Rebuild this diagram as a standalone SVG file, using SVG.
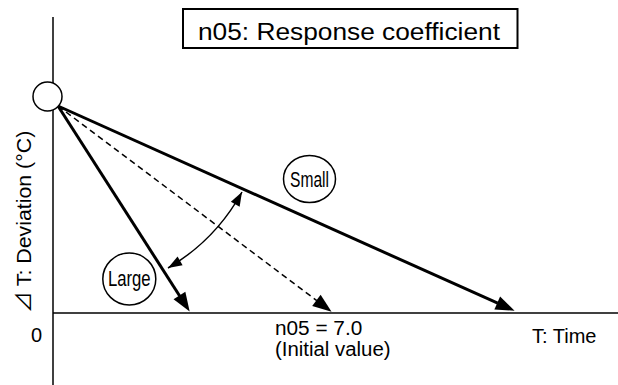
<svg xmlns="http://www.w3.org/2000/svg" width="618" height="385" viewBox="0 0 618 385">
<style>
text{font-family:"Liberation Sans",Arial,Helvetica,sans-serif;fill:#000}
.ax{stroke:#000;stroke-width:1.5;fill:none}
.thick{stroke:#000;stroke-width:3;fill:none}
.dash{stroke:#000;stroke-width:1.5;fill:none;stroke-dasharray:6 4}
.lbl{fill:#fff;stroke:#000;stroke-width:1.5}
</style>
<defs>
<marker id="big" markerUnits="userSpaceOnUse" markerWidth="22" markerHeight="16" refX="0.5" refY="7" orient="auto" overflow="visible">
<path d="M0,0 L19,7 L0,14 Z" fill="#000"/>
</marker>
<marker id="sm" markerUnits="userSpaceOnUse" markerWidth="16" markerHeight="12" refX="14" refY="5" orient="auto-start-reverse" overflow="visible">
<path d="M0,0 L14,5 L0,10 Z" fill="#000"/>
</marker>
</defs>
<g id="axes">
<line class="ax" x1="53" y1="17" x2="53" y2="385"/>
<line class="ax" x1="53" y1="313" x2="618" y2="313"/>
</g>
<g id="connectors">
<line class="thick" x1="58" y1="106" x2="179.7" y2="296" marker-end="url(#big)"/>
<line class="dash" x1="58" y1="106" x2="316.8" y2="300.6" marker-end="url(#big)"/>
<line class="thick" x1="58" y1="106" x2="497.7" y2="303.2" marker-end="url(#big)"/>
<path d="M168,268 A200,200 0 0 0 242,192" fill="none" stroke="#000" stroke-width="1.5" marker-start="url(#sm)" marker-end="url(#sm)"/>
</g>
<g id="origin">
<circle class="lbl" cx="47.5" cy="96.5" r="14.5"/>
</g>
<g id="title">
<rect x="183" y="9" width="334.5" height="39" fill="#fff" stroke="#000" stroke-width="2"/>
<text transform="translate(198,40) scale(1.06,1)" font-size="24.8">n05: Response coefficient</text>
</g>
<g id="small">
<ellipse class="lbl" cx="309.5" cy="179" rx="26" ry="23.5"/>
<text transform="translate(309.5,186.5) scale(0.71,1)" font-size="22" text-anchor="middle">Small</text>
</g>
<g id="large">
<ellipse class="lbl" cx="129.3" cy="279" rx="26.5" ry="26"/>
<text transform="translate(129.3,285.5) scale(0.76,1)" font-size="22" text-anchor="middle">Large</text>
</g>
<g id="labels">
<text x="36.5" y="341.5" font-size="20" text-anchor="middle">0</text>
<text transform="translate(275,335) scale(1.04,1)" font-size="20">n05 = 7.0</text>
<text transform="translate(275,356) scale(1.02,1)" font-size="20">(Initial value)</text>
<text x="532" y="343" font-size="20">T: Time</text>
<text transform="translate(31,313) rotate(-90) scale(1.04,1)" font-size="20.5"><tspan font-family="'Noto Sans CJK JP',sans-serif">⊿</tspan> T: Deviation (°C)</text>
</g>
</svg>
